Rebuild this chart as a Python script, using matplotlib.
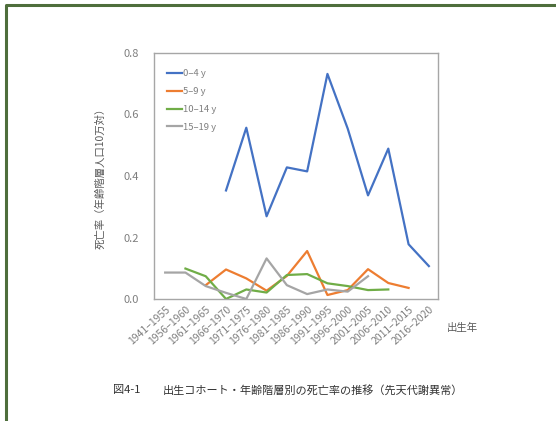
import matplotlib.pyplot as plt
import numpy as np
from matplotlib.lines import Line2D

plt.rcParams['font.family'] = ['Noto Sans CJK JP', 'DejaVu Sans']

# birth cohorts
cohorts = ['1941–1955', '1956–1960', '1961–1965', '1966–1970', '1971–1975',
           '1976–1980', '1981–1985', '1986–1990', '1991–1995', '1996–2000',
           '2001–2005', '2006–2010', '2011–2015', '2016–2020']

nan = np.nan
# mortality per 100k by age group
age_0_4 = [nan, nan, nan, 0.353, 0.557, 0.269, 0.428, 0.415, 0.732, 0.554,
           0.337, 0.489, 0.178, 0.107]
age_5_9 = [nan, nan, 0.045, 0.096, 0.067, 0.027, 0.075, 0.156, 0.013, 0.029,
           0.097, 0.052, 0.036, nan]
age_10_14 = [nan, 0.099, 0.074, 0.0, 0.031, 0.021, 0.078, 0.081, 0.051, 0.042,
             0.029, 0.031, nan, nan]
age_15_19 = [0.086, 0.086, 0.042, 0.020, 0.0, 0.132, 0.045, 0.016, 0.031, 0.024,
             0.074, nan, nan, nan]

labels = ['0–4 y', '5–9 y', '10–14 y', '15–19 y']
colors = ['#4472C4', '#ED7D31', '#70AD47', '#A5A5A5']
series = [age_0_4, age_5_9, age_10_14, age_15_19]

fig = plt.figure(figsize=(5.56, 4.21), dpi=100)
ax = fig.add_axes([154 / 556, 122 / 421, 284 / 556, 246 / 421])

x = np.arange(len(cohorts))
for y, lab, c in zip(series, labels, colors):
    ax.plot(x, y, color=c, linewidth=1.6, label=lab)

ax.set_xlim(-0.55, 13.45)
ax.set_ylim(0, 0.8)
ax.set_yticks([0.0, 0.2, 0.4, 0.6, 0.8])
ax.set_yticklabels(['0.0', '0.2', '0.4', '0.6', '0.8'])
ax.set_xticks(x)
ax.set_xticklabels(cohorts, rotation=42, ha='right', rotation_mode='anchor')
ax.tick_params(length=0, labelsize=7.5, colors='#7f7f7f', pad=4)
ax.tick_params(axis='y', labelsize=8, pad=11)
for s in ax.spines.values():
    s.set_color('#a6a6a6')
    s.set_linewidth(1.0)

ax.set_ylabel('死亡率（年齢階層人口10万対）', fontsize=7.5, color='#595959',
              labelpad=13)

leg = ax.legend(loc='upper left', frameon=False, fontsize=6.8, handlelength=1.6,
                handletextpad=0.1, labelspacing=0.95,
                bbox_to_anchor=(0.015, 0.97))
for t in leg.get_texts():
    t.set_color('#7f7f7f')

fig.text(447 / 556, 1 - 328 / 421, '出生年', fontsize=7.5, color='#595959',
         va='center', ha='left')
fig.text(113 / 556, 1 - 390 / 421, '図4-1', fontsize=8, color='#333333',
         va='center', ha='left')
fig.text(163 / 556, 1 - 390 / 421, '出生コホート・年齢階層別の死亡率の推移（先天代謝異常）',
         fontsize=8, color='#333333', va='center', ha='left')

# green page frame (top and left edges)
fig.add_artist(Line2D([6 / 556, 6 / 556, 1.0], [0.0, 1 - 5 / 421, 1 - 5 / 421],
                      transform=fig.transFigure, color='#4e6e3c', linewidth=2.2))

fig.savefig('out.png', dpi=100)
